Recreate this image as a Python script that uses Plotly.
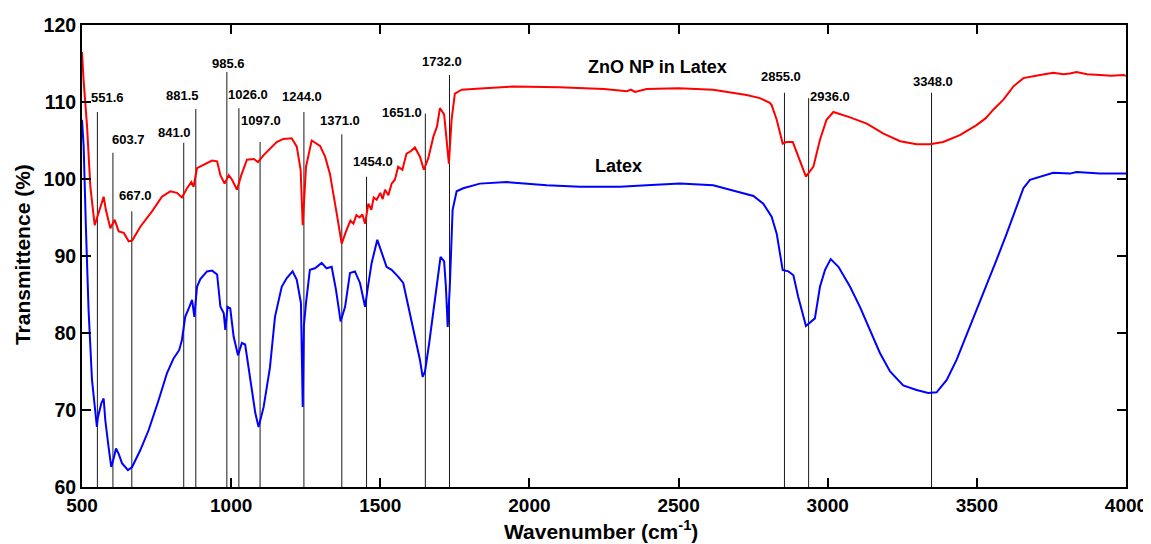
import plotly.graph_objects as go

# ---------------- data ----------------
zno_wavenumber = [500, 505, 517, 528, 542.5, 545, 561, 572.6, 580, 595, 609.5, 623, 640, 656.5, 668,
                  695.6, 734.7, 768, 796, 818, 835, 852, 866.5, 874, 885.5, 908, 936, 953, 964, 978,
                  992, 1003, 1019.6, 1034, 1053, 1076, 1090, 1109, 1132, 1152.5, 1175, 1203, 1220,
                  1233, 1240, 1244, 1251, 1270, 1298, 1315, 1331, 1354, 1370.5, 1387, 1400, 1410,
                  1420, 1431, 1440, 1449, 1460, 1470, 1478, 1488, 1500, 1508, 1516, 1527, 1538, 1549,
                  1560, 1574, 1588, 1602, 1616, 1633, 1646, 1661, 1678, 1690, 1700, 1714, 1723, 1730,
                  1739, 1750, 1773, 1802, 1850, 1945, 2100, 2250, 2327, 2340, 2354, 2393, 2500, 2616,
                  2706, 2728, 2773, 2806, 2812, 2829, 2849, 2862, 2883, 2901, 2927, 2952, 2974, 2996,
                  3019, 3075, 3131, 3187, 3243, 3298, 3343, 3387, 3443, 3499, 3530, 3555, 3589, 3622,
                  3656, 3712, 3756, 3790, 3812, 3834, 3870, 3913, 3950, 3991, 4000]
zno_transmittance = [116.5, 113.0, 106.8, 99.0, 94.0, 94.3, 96.0, 97.7, 96.0, 93.6, 94.7, 93.2, 93.0,
                     91.9, 92.0, 93.8, 95.8, 97.7, 98.4, 98.2, 97.6, 98.8, 99.6, 99.0, 101.4, 101.8,
                     102.4, 102.3, 100.5, 99.4, 100.5, 99.9, 98.6, 100.5, 102.5, 102.6, 102.2, 103.1,
                     104.0, 104.8, 105.2, 105.3, 104.2, 101.2, 94.0, 97.0, 101.6, 105.0, 104.3, 102.9,
                     100.7, 95.5, 91.6, 93.4, 94.6, 94.2, 95.3, 95.0, 95.4, 94.2, 96.8, 96.0, 97.6,
                     97.3, 98.2, 97.4, 98.6, 97.9, 99.4, 99.9, 101.6, 101.2, 103.3, 103.6, 104.1, 102.9,
                     101.2, 102.7, 105.5, 106.8, 109.2, 108.4, 105.1, 102.0, 107.7, 111.1, 111.6, 111.7,
                     111.8, 112.0, 111.9, 111.7, 111.4, 111.6, 111.3, 111.7, 111.8, 111.6, 111.1, 110.9,
                     110.5, 109.9, 109.6, 107.7, 104.6, 104.8, 104.8, 102.9, 100.3, 101.6, 105.1, 107.7,
                     108.7, 108.0, 107.2, 105.9, 104.9, 104.5, 104.5, 104.8, 105.7, 107.0, 107.9, 109.0,
                     110.3, 112.0, 113.1, 113.5, 113.8, 113.6, 113.7, 113.9, 113.6, 113.5, 113.4, 113.5,
                     113.4]

latex_wavenumber = [500, 505.6, 513, 522, 533.5, 544.7, 550, 553, 565, 572.6, 578, 589, 598, 606, 614,
                    623, 634, 654, 668, 695.6, 723.5, 757, 785, 807, 826, 835, 846, 860, 869, 876.7,
                    885.5, 896.7, 919, 936, 953, 964, 975, 980.5, 988, 997, 1008.4, 1023, 1036, 1047,
                    1064, 1081, 1092, 1109, 1130, 1147, 1169.5, 1186, 1206, 1220, 1234, 1240, 1244,
                    1251, 1264, 1281, 1303.5, 1320, 1337, 1351.5, 1367, 1382, 1398.5, 1415, 1432, 1449,
                    1457, 1471, 1490, 1505, 1521, 1538, 1560.5, 1577, 1594, 1616, 1633, 1642, 1650,
                    1664, 1683, 1702, 1714, 1720, 1726, 1733, 1742.5, 1756, 1778, 1800, 1834, 1924,
                    2058, 2170, 2304, 2393, 2505, 2616, 2706, 2751, 2784, 2812, 2829, 2849, 2868, 2885,
                    2901, 2927, 2957, 2974, 2991, 3010, 3036, 3075, 3108, 3142, 3175, 3209, 3253, 3298,
                    3337, 3365, 3399, 3432, 3477, 3521, 3566, 3600, 3633, 3656, 3678, 3712, 3756, 3812,
                    3834, 3913, 3991, 4000]
latex_transmittance = [107.7, 104.2, 93.8, 83.0, 73.9, 69.6, 67.8, 69.0, 70.9, 71.5, 68.7, 65.2, 62.6,
                       63.7, 65.0, 64.3, 63.1, 62.2, 62.6, 64.8, 67.4, 71.3, 74.8, 76.7, 77.8, 79.1,
                       82.1, 83.4, 84.3, 82.1, 86.0, 87.0, 88.0, 88.1, 87.6, 83.4, 82.6, 80.4, 83.4,
                       83.2, 79.5, 77.1, 78.7, 78.5, 73.9, 69.6, 67.8, 70.4, 75.5, 82.1, 86.0, 87.1,
                       88.0, 86.9, 83.9, 70.4, 81.0, 83.9, 88.2, 88.4, 89.1, 88.4, 88.6, 85.6, 81.5,
                       83.4, 87.8, 88.0, 86.5, 83.4, 85.6, 89.1, 92.1, 90.4, 88.6, 88.2, 87.3, 86.5,
                       83.4, 79.5, 76.5, 74.3, 75.0, 78.7, 84.3, 89.9, 89.3, 86.0, 80.8, 86.0, 96.0,
                       98.4, 98.8, 99.0, 99.4, 99.6, 99.2, 99.0, 99.0, 99.2, 99.4, 99.2, 98.2, 97.8,
                       96.8, 95.1, 92.9, 88.2, 88.0, 87.5, 84.7, 80.9, 81.9, 86.0, 88.2, 89.6, 88.6,
                       86.0, 83.4, 80.4, 77.4, 75.0, 73.2, 72.6, 72.2, 72.3, 73.9, 76.5, 80.8, 85.2,
                       89.5, 92.9, 96.4, 98.8, 99.9, 100.3, 100.8, 100.7, 100.9, 100.7, 100.7, 100.7]

peak_labels = ["551.6", "603.7", "667.0", "841.0", "881.5", "985.6", "1026.0", "1097.0", "1244.0",
               "1371.0", "1454.0", "1651.0", "1732.0", "2855.0", "2936.0", "3348.0"]
peak_positions = [551.6, 603.7, 667.0, 841.0, 881.5, 985.6, 1026.0, 1097.0, 1244.0,
                  1371.0, 1454.0, 1651.0, 1732.0, 2855.0, 2936.0, 3348.0]
peak_line_tops = [108.7, 103.4, 95.8, 104.7, 109.1, 113.9, 109.2, 104.8, 108.7,
                  105.8, 100.3, 108.5, 113.5, 111.2, 110.5, 111.2]

series_names = ["ZnO NP in Latex", "Latex"]

x_ticks = [500, 1000, 1500, 2000, 2500, 3000, 3500, 4000]
y_ticks = [60, 70, 80, 90, 100, 110, 120]

# ---------------- styling / layout (not data) ----------------
# pixel offsets of each label centre from the top of its marker line
label_offsets = [(10, 15), (16, 13), (4, 16), (-9, 10), (-13, 13), (2, 8), (9, 14), (1, 22),
                 (-2, 16), (-2, 14), (6, 15), (-23, 1), (-7, 14), (-3, 16), (21, 2), (1, 11)]
# data-space anchor of the two in-plot series captions
caption_anchor = [(2431, 114.5), (2297, 101.7)]

FONT = "Liberation Sans, Arial, sans-serif"

fig = go.Figure()

# marker lines
lx, ly = [], []
for p, t in zip(peak_positions, peak_line_tops):
    lx += [p, p, None]
    ly += [60, t, None]
fig.add_trace(go.Scatter(x=lx, y=ly, mode="lines", line=dict(color="#1a1a1a", width=1),
                         hoverinfo="skip", showlegend=False))

fig.add_trace(go.Scatter(x=latex_wavenumber, y=latex_transmittance, mode="lines",
                         line=dict(color="#0000FF", width=2), name=series_names[1], showlegend=False))
fig.add_trace(go.Scatter(x=zno_wavenumber, y=zno_transmittance, mode="lines",
                         line=dict(color="#FF0000", width=2), name=series_names[0], showlegend=False))

annotations = []
for lab, p, t, (dx, dy) in zip(peak_labels, peak_positions, peak_line_tops, label_offsets):
    annotations.append(dict(x=p, y=t, xref="x", yref="y", text=lab, showarrow=False,
                            xanchor="center", yanchor="middle", xshift=dx, yshift=dy,
                            font=dict(family=FONT, size=13, color="black", weight="bold")))

for name, (cx, cy) in zip(series_names, caption_anchor):
    annotations.append(dict(x=cx, y=cy, xref="x", yref="y", text=name, showarrow=False,
                            xanchor="center", yanchor="middle",
                            font=dict(family=FONT, size=18, color="black", weight="bold")))

# axis titles as paper annotations for exact placement
annotations.append(dict(x=0.497, y=-0.093, xref="paper", yref="paper",
                        text="Wavenumber (cm<sup>-1</sup>)", showarrow=False,
                        xanchor="center", yanchor="middle",
                        font=dict(family=FONT, size=21, color="black", weight="bold")))
annotations.append(dict(x=0, y=0.502, xref="paper", yref="paper", xshift=-60,
                        text="Transmittence (%)", showarrow=False, textangle=-90,
                        xanchor="center", yanchor="middle",
                        font=dict(family=FONT, size=21, color="black", weight="bold")))

axis_common = dict(showgrid=False, zeroline=False, showline=True, linecolor="black", linewidth=2,
                   mirror="ticks", ticks="inside", ticklen=9, tickwidth=2, tickcolor="black",
                   automargin=False)

# the page body adds an 8 px offset, so the figure is sized to fit inside the window
fig.update_layout(
    width=1143, height=536,
    margin=dict(l=74, r=25, t=17, b=57),
    paper_bgcolor="white", plot_bgcolor="white",
    xaxis=dict(range=[500, 4000], tickvals=x_ticks, ticktext=[str(v) for v in x_ticks],
               tickfont=dict(family=FONT, size=19, color="black", weight="bold"),
               **axis_common),
    yaxis=dict(range=[60, 120], tickvals=y_ticks, ticktext=[str(v) for v in y_ticks],
               tickfont=dict(family=FONT, size=19.5, color="black", weight="bold"),
               **axis_common),
    annotations=annotations,
)

fig.write_html("out.html")
